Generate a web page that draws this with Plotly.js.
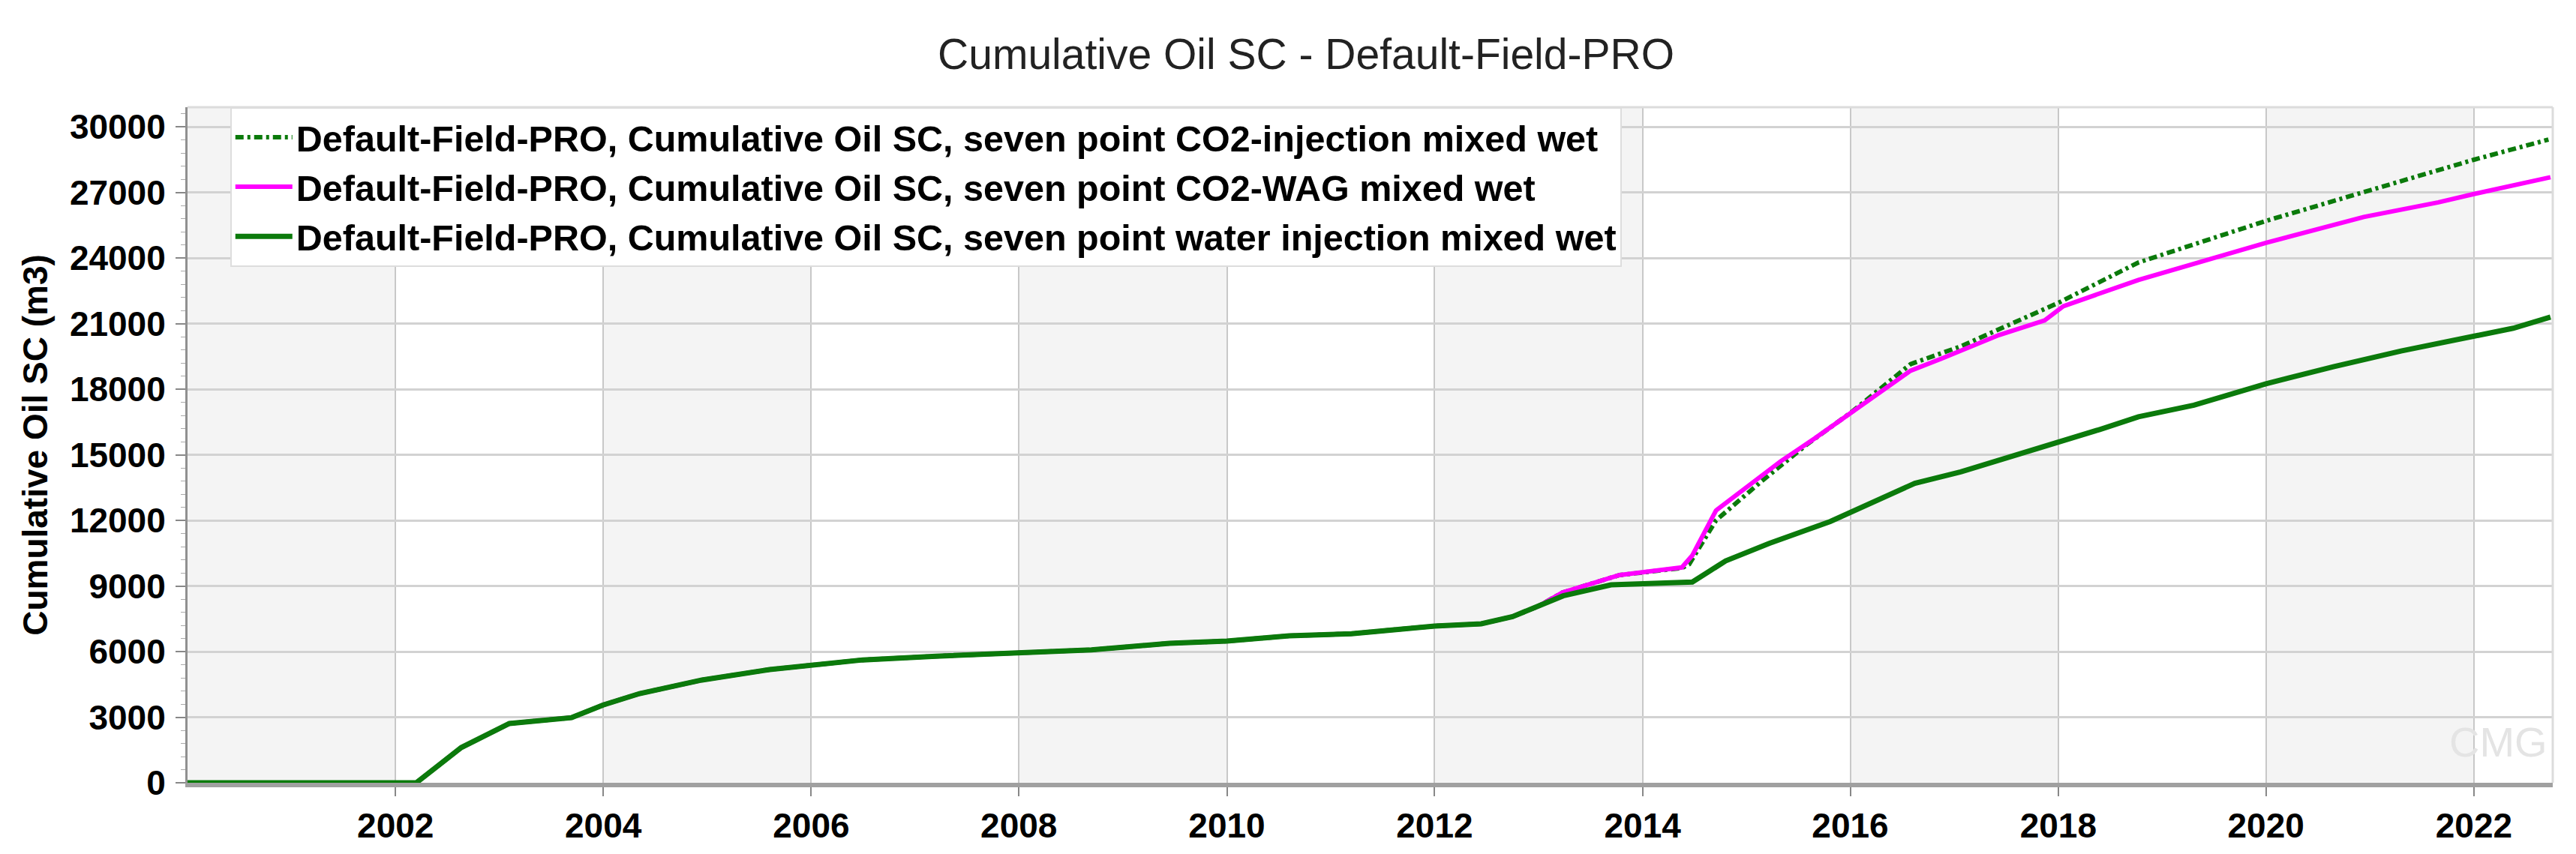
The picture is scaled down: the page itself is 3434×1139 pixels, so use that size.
<!DOCTYPE html>
<html>
<head>
<meta charset="utf-8">
<script src="https://cdn.plot.ly/plotly-3.0.1.min.js"></script>
<style>html,body{margin:0;padding:0;background:#fff;}#chart{width:3434px;height:1139px;}</style>
</head>
<body>
<div id="chart"></div>
<script>
// Shared history (all three cases identical until early 2013)
const earlyDates = ['2000-01-01','2002-03-15','2002-08-20','2003-02-05','2003-09-12','2004-01-01','2004-05-08','2004-12-13','2005-08-08','2006-01-01','2006-07-01','2007-03-15','2008-01-01','2008-09-12','2009-06-13','2010-01-01','2010-08-08','2011-03-15','2012-01-01','2012-06-13','2012-10-01','2013-01-01'];
const earlyVals  = [0,0,1610,2710,2980,3560,4080,4700,5180,5380,5620,5790,5950,6080,6380,6480,6720,6820,7170,7270,7600,8080];

// seven point water injection mixed wet
const waterDates = ['2013-03-28','2013-09-12','2014-01-01','2014-06-25','2014-10-20','2015-03-22','2015-10-23','2016-01-01','2016-08-15','2017-01-23','2017-05-01','2018-01-01','2018-05-27','2018-10-10','2019-04-23','2020-01-01','2020-08-25','2021-04-20','2022-01-01','2022-05-19','2022-09-27'];
const waterVals  = [8550,9050,9120,9180,10150,10950,11950,12350,13700,14220,14600,15550,16160,16740,17270,18250,19030,19750,20400,20790,21300];

// seven point CO2-WAG mixed wet
const wagDates = ['2013-03-25','2013-10-12','2014-05-19','2014-06-25','2014-09-16','2014-11-06','2015-05-01','2015-08-29','2016-01-05','2016-05-01','2016-07-31','2016-11-17','2017-06-07','2017-11-14','2018-01-19','2018-10-10','2020-01-01','2020-12-10','2021-08-29','2022-01-01','2022-09-27'];
const wagVals  = [8700,9500,9850,10400,12450,12950,14700,15750,16950,18000,18850,19400,20480,21150,21800,23000,24700,25880,26550,26930,27700];

// seven point CO2-injection mixed wet
const co2Dates = ['2013-03-25','2013-10-12','2014-05-19','2014-06-14','2014-09-16','2015-02-24','2015-08-04','2016-01-05','2016-07-31','2017-01-23','2018-01-01','2018-10-10','2020-01-01','2020-12-10','2022-01-01','2022-09-20'];
const co2Vals  = [8700,9500,9820,10000,12000,13800,15500,16950,19150,19960,21950,23800,25700,27000,28500,29420];

const seriesNames = [
  'Default-Field-PRO, Cumulative Oil SC, seven point CO2-injection mixed wet',
  'Default-Field-PRO, Cumulative Oil SC, seven point CO2-WAG mixed wet',
  'Default-Field-PRO, Cumulative Oil SC, seven point water injection mixed wet'
];
const xTickVals = ['2002-01-01','2004-01-01','2006-01-01','2008-01-01','2010-01-01','2012-01-01','2014-01-01','2016-01-01','2018-01-01','2020-01-01','2022-01-01'];
const xTickText = ['2002','2004','2006','2008','2010','2012','2014','2016','2018','2020','2022'];
const bandStarts = ['2000-01-01','2004-01-01','2008-01-01','2012-01-01','2016-01-01','2020-01-01'];
const bandEnds   = ['2002-01-01','2006-01-01','2010-01-01','2014-01-01','2018-01-01','2022-01-01'];

const FONT = 'Liberation Sans, Arial, sans-serif';

const traces = [
  {x: earlyDates.concat(co2Dates), y: earlyVals.concat(co2Vals), name: seriesNames[0], legendgroup: 'a',
   mode: 'lines', line: {color: '#0b7a0b', width: 6, dash: '11px,5px,4px,5px'}},
  {x: earlyDates.concat(wagDates), y: earlyVals.concat(wagVals), name: seriesNames[1], legendgroup: 'b',
   mode: 'lines', line: {color: '#ff00ff', width: 6}},
  {x: earlyDates.concat(waterDates), y: earlyVals.concat(waterVals), name: seriesNames[2], legendgroup: 'c',
   mode: 'lines', line: {color: '#0b7a0b', width: 7}}
];

const shapes = bandStarts.map((s, i) => ({
  type: 'rect', xref: 'x', yref: 'paper', x0: s, x1: bandEnds[i], y0: 0, y1: 1,
  fillcolor: '#f4f4f4', line: {width: 0}, layer: 'below'
}));
shapes.push({type: 'line', xref: 'paper', yref: 'paper', x0: 0, x1: 1, y0: 1, y1: 1, line: {color: '#dcdcdc', width: 3}});
shapes.push({type: 'line', xref: 'paper', yref: 'paper', x0: 1, x1: 1, y0: 0, y1: 1, line: {color: '#dcdcdc', width: 3}});

const layout = {
  width: 3434, height: 1139,
  margin: {l: 250, r: 31, t: 143, b: 95},
  paper_bgcolor: '#ffffff', plot_bgcolor: '#ffffff',
  title: {text: 'Cumulative Oil SC - Default-Field-PRO', font: {family: FONT, size: 57, color: '#222'},
          xref: 'container', x: 0.507, xanchor: 'center', yref: 'container', y: 0.937, yanchor: 'middle'},
  showlegend: true,
  legend: {x: 0.018, y: 1, xanchor: 'left', yanchor: 'top', bgcolor: '#ffffff', bordercolor: '#dddddd', borderwidth: 2,
           font: {family: FONT, size: 48.5, color: '#000', weight: 'bold'}, tracegroupgap: 0, itemwidth: 76},
  xaxis: {type: 'date', range: ['2000-01-01', '2022-10-05'], tickmode: 'array', tickvals: xTickVals, ticktext: xTickText,
          showgrid: true, gridcolor: '#c8c8c8', gridwidth: 2, zeroline: false,
          showline: true, linecolor: '#a0a0a0', linewidth: 6,
          ticks: 'outside', ticklen: 12, tickwidth: 2, tickcolor: '#888',
          tickfont: {family: FONT, size: 46, color: '#000', weight: 'bold'}},
  yaxis: {range: [0, 30900], dtick: 3000, tick0: 0, tickformat: 'd', showgrid: true, gridcolor: '#d2d2d2', gridwidth: 3, zeroline: false,
          showline: true, linecolor: '#909090', linewidth: 3,
          ticks: 'outside', ticklen: 13, tickwidth: 2, tickcolor: '#888', ticklabelstandoff: 4,
          minor: {dtick: 600, ticks: 'outside', ticklen: 6, tickcolor: '#aaa', tickwidth: 1, showgrid: false},
          tickfont: {family: FONT, size: 46, color: '#000', weight: 'bold'},
          title: {text: 'Cumulative Oil SC (m3)', font: {family: FONT, size: 46, color: '#000', weight: 'bold'}, standoff: 15}},
  shapes: shapes,
  annotations: [{text: 'CMG', xref: 'paper', yref: 'paper', x: 0.977, y: 0.06, xanchor: 'center', yanchor: 'middle',
                 showarrow: false, font: {family: FONT, size: 56, color: '#e4e4e4'}}]
};

Plotly.newPlot('chart', traces, layout, {displayModeBar: false, staticPlot: true});
</script>
</body>
</html>
